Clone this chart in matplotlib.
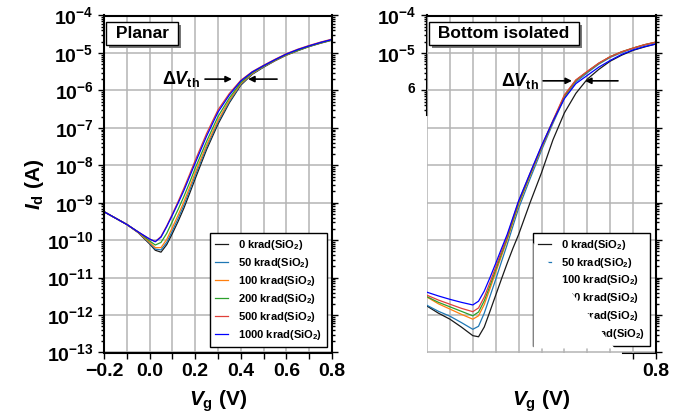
import numpy as np
import matplotlib
matplotlib.use("Agg")
import matplotlib.pyplot as plt
import matplotlib.patheffects as pe
from matplotlib.ticker import FixedLocator, NullFormatter, LogLocator
from matplotlib.patches import Polygon

plt.rcParams["font.family"] = "Liberation Sans"
plt.rcParams["font.weight"] = "bold"
plt.rcParams["axes.labelweight"] = "bold"
plt.rcParams["mathtext.fontset"] = "custom"
plt.rcParams["mathtext.rm"] = "Liberation Sans:bold"
plt.rcParams["mathtext.it"] = "Liberation Sans:italic:bold"
plt.rcParams["mathtext.bf"] = "Liberation Sans:bold"
plt.rcParams["mathtext.sf"] = "Liberation Sans:bold"

# gate voltage points (V)
vg = [-0.2, -0.15, -0.1, -0.05, 0.0, 0.025, 0.05, 0.075, 0.1, 0.125, 0.15, 0.175,
      0.2, 0.25, 0.3, 0.35, 0.4, 0.45, 0.5, 0.55, 0.6, 0.65, 0.7, 0.75, 0.8]

doses = ["0", "50", "100", "200", "500", "1000"]
colors = ["#1a1a1a", "#1f77b4", "#ff7f0e", "#2ca02c", "#e0403a", "#0000ff"]

# log10(Id)
planar_0 = [-9.24, -9.41, -9.58, -9.8, -10.1, -10.27, -10.32, -10.12, -9.82, -9.5, -9.15, -8.76,
            -8.36, -7.58, -6.9, -6.33, -5.86, -5.57, -5.38, -5.21, -5.06, -4.94, -4.83, -4.74, -4.66]
planar_50 = [-9.24, -9.41, -9.58, -9.79, -10.08, -10.24, -10.26, -10.06, -9.75, -9.42, -9.07, -8.68,
             -8.28, -7.52, -6.85, -6.3, -5.84, -5.56, -5.37, -5.2, -5.05, -4.93, -4.82, -4.73, -4.65]
planar_100 = [-9.24, -9.41, -9.58, -9.79, -10.06, -10.2, -10.2, -9.98, -9.66, -9.33, -8.98, -8.6,
              -8.2, -7.46, -6.8, -6.26, -5.82, -5.55, -5.36, -5.2, -5.05, -4.93, -4.82, -4.73, -4.65]
planar_200 = [-9.24, -9.41, -9.58, -9.78, -10.02, -10.13, -10.06, -9.82, -9.5, -9.18, -8.84, -8.47,
              -8.08, -7.36, -6.7, -6.2, -5.79, -5.53, -5.35, -5.19, -5.04, -4.93, -4.82, -4.73, -4.65]
planar_500 = [-9.24, -9.41, -9.58, -9.78, -9.97, -10.04, -9.9, -9.62, -9.3, -8.97, -8.62, -8.25,
              -7.87, -7.15, -6.52, -6.08, -5.73, -5.5, -5.33, -5.17, -5.02, -4.9, -4.8, -4.71, -4.63]
planar_1000 = [-9.24, -9.41, -9.58, -9.78, -9.97, -10.04, -9.92, -9.64, -9.33, -9.01, -8.68, -8.31,
               -7.94, -7.22, -6.58, -6.12, -5.75, -5.51, -5.34, -5.18, -5.03, -4.91, -4.81, -4.72, -4.64]

# log10(Id)
iso_0 = [-11.76, -11.95, -12.11, -12.32, -12.55, -12.58, -12.32, -11.9, -11.47, -11.04, -10.62, -10.22,
         -9.85, -9.0, -8.2, -7.32, -6.6, -6.08, -5.7, -5.44, -5.22, -5.06, -4.93, -4.84, -4.76]
iso_50 = [-11.74, -11.9, -12.03, -12.2, -12.38, -12.3, -11.95, -11.5, -11.05, -10.58, -10.12, -9.63,
          -9.15, -8.36, -7.6, -6.88, -6.2, -5.78, -5.53, -5.3, -5.12, -4.99, -4.88, -4.79, -4.72]
iso_100 = [-11.52, -11.7, -11.84, -11.98, -12.11, -12.02, -11.72, -11.3, -10.86, -10.43, -10.0, -9.53,
           -9.06, -8.28, -7.54, -6.84, -6.17, -5.74, -5.5, -5.28, -5.1, -4.97, -4.87, -4.78, -4.71]
iso_200 = [-11.51, -11.66, -11.78, -11.9, -12.02, -11.92, -11.62, -11.22, -10.79, -10.37, -9.95, -9.48,
           -9.02, -8.25, -7.52, -6.82, -6.15, -5.73, -5.5, -5.28, -5.1, -4.97, -4.87, -4.78, -4.71]
iso_500 = [-11.47, -11.6, -11.71, -11.82, -11.91, -11.81, -11.52, -11.13, -10.72, -10.31, -9.9, -9.43,
           -8.97, -8.22, -7.5, -6.8, -6.12, -5.72, -5.49, -5.27, -5.1, -4.97, -4.87, -4.78, -4.71]
iso_1000 = [-11.39, -11.49, -11.58, -11.66, -11.73, -11.63, -11.36, -11.0, -10.62, -10.23, -9.85, -9.4,
            -8.95, -8.21, -7.48, -6.82, -6.22, -5.82, -5.6, -5.38, -5.2, -5.04, -4.92, -4.83, -4.76]

planar = [planar_0, planar_50, planar_100, planar_200, planar_500, planar_1000]
isolated = [iso_0, iso_50, iso_100, iso_200, iso_500, iso_1000]

x_ticks = [-0.2, -0.1, 0.0, 0.1, 0.2, 0.3, 0.4, 0.5, 0.6, 0.7, 0.8]
x_labels = ["\u22120.2", "", "0.0", "", "0.2", "", "0.4", "", "0.6", "", "0.8"]
y_exps = [-4, -5, -6, -7, -8, -9, -10, -11, -12, -13]

fig = plt.figure(figsize=(6.94, 4.2), dpi=100)
W, H = 694.0, 420.0
ax1 = fig.add_axes([104 / W, (H - 352.5) / H, 228 / W, 337 / H])
ax2 = fig.add_axes([427 / W, (H - 352.5) / H, 229 / W, 337 / H])


def setup(ax):
    ax.set_yscale("log")
    ax.set_xlim(-0.2, 0.8)
    ax.set_ylim(1e-13, 1e-4)
    ax.set_xticks(x_ticks)
    ax.set_yticks([10.0 ** e for e in y_exps])
    ax.yaxis.set_minor_locator(LogLocator(base=10, subs=np.arange(2, 10), numticks=50))
    ax.yaxis.set_minor_formatter(NullFormatter())
    ax.grid(True, which="major", color="#b4b4b4", lw=1.1)
    ax.set_axisbelow(True)
    for s in ax.spines.values():
        s.set_linewidth(1.5)
    ax.tick_params(which="both", direction="out", width=1, left=True, right=True,
                   top=False, labelsize=14)
    ax.tick_params(which="major", length=4)
    ax.tick_params(which="minor", length=2.5)


def draw_curves(ax, series, anchor):
    for d, c, logs in zip(doses, colors, series):
        ax.plot(vg, 10.0 ** np.array(logs), color=c, lw=0.9,
                label=d + r" krad(SiO$_2$)")
    leg = ax.legend(loc="lower right", fontsize=8, frameon=True, fancybox=False,
                    edgecolor="black", handlelength=1.2, handletextpad=0.9,
                    labelspacing=0.35, borderpad=0.45, borderaxespad=0,
                    bbox_to_anchor=anchor)
    leg.get_frame().set_linewidth(1.0)
    leg.get_frame().set_alpha(1)
    return leg


def title_box(ax, text, xc):
    t = ax.text(xc, 0.947, text, transform=ax.transAxes, ha="center", va="center",
                fontsize=12.5, fontweight="bold", zorder=6,
                bbox=dict(boxstyle="square,pad=0.25", facecolor="white",
                          edgecolor="black", lw=1.0))
    t.get_bbox_patch().set_path_effects(
        [pe.SimplePatchShadow(offset=(2.2, -2.2), shadow_rgbFace="#777777", alpha=1),
         pe.Normal()])


def delta_vth(ax, x_text, x_l0, x_l1, x_r0, x_r1, y):
    ax.text(x_text, y, r"$\mathit{\Delta V}_{\mathrm{th}}$", ha="right", va="center",
            fontsize=13)
    arrow = dict(arrowstyle="-|>", color="black", lw=1.2, mutation_scale=9,
                 shrinkA=0, shrinkB=0)
    ax.annotate("", xy=(x_l1, y), xytext=(x_l0, y), arrowprops=arrow)
    ax.annotate("", xy=(x_r1, y), xytext=(x_r0, y), arrowprops=arrow)


# --- planar panel
setup(ax1)
ax1.set_xticklabels(x_labels)
ax1.set_yticklabels([r"10$^{%d}$" % e for e in y_exps])
draw_curves(ax1, planar, (0.978, 0.017))
title_box(ax1, " Planar ", 0.167)
delta_vth(ax1, 0.222, 0.243, 0.361, 0.559, 0.432, 2.0e-6)
ax1.set_ylabel(r"$I_{\mathrm{d}}$ (A)", fontsize=15, fontweight="bold", labelpad=1)
ax1.set_xlabel(r"$V_{\mathrm{g}}$ (V)", fontsize=15, fontweight="bold", labelpad=6)

# --- bottom isolated panel (left and bottom edges partly missing in the original)
setup(ax2)
ax2.tick_params(which="both", left=False, labelleft=False, bottom=False,
                labelbottom=False)
ax2.spines["left"].set_visible(False)
ax2.spines["bottom"].set_visible(False)
draw_curves(ax2, isolated, (0.974, 0.019))
title_box(ax2, " Bottom isolated ", 0.336)
delta_vth(ax2, 0.287, 0.307, 0.433, 0.634, 0.49, 1.8e-6)

sec_y = ax2.secondary_yaxis("left")
sec_y.set_ticks([1e-4, 1e-5, 1e-6], labels=[r"10$^{-4}$", r"10$^{-5}$", r"$^{6}\;\;$"])
sec_y.yaxis.set_minor_locator(FixedLocator(
    [k * 10.0 ** e for e in (-5, -6, -7) for k in range(2, 10) if k * 10.0 ** e > 10 ** -6.67]))
sec_y.yaxis.set_minor_formatter(NullFormatter())
sec_y.spines["left"].set_bounds(10 ** -6.67, 1e-4)
sec_y.spines["left"].set_linewidth(1.5)
sec_y.tick_params(which="both", direction="out", width=1, labelsize=14)
sec_y.tick_params(which="major", length=4)
sec_y.tick_params(which="minor", length=2.5)

sec_x = ax2.secondary_xaxis("bottom")
sec_x.set_ticks([0.7, 0.8], labels=["", "0.8"])
sec_x.spines["bottom"].set_bounds(0.657, 0.8)
sec_x.spines["bottom"].set_linewidth(1.5)
sec_x.tick_params(direction="out", length=4, width=1, labelsize=14)
sec_x.set_xlabel(r"$V_{\mathrm{g}}$ (V)", fontsize=15, fontweight="bold", labelpad=6)

# white-out over the lower left of the legend, as in the original
ax2.add_patch(Polygon([(0.465, 0.325), (0.82, 0.012), (0.465, 0.012)],
                      closed=True, transform=ax2.transAxes, facecolor="white",
                      edgecolor="none", zorder=10))

fig.savefig("out.png", dpi=100)
